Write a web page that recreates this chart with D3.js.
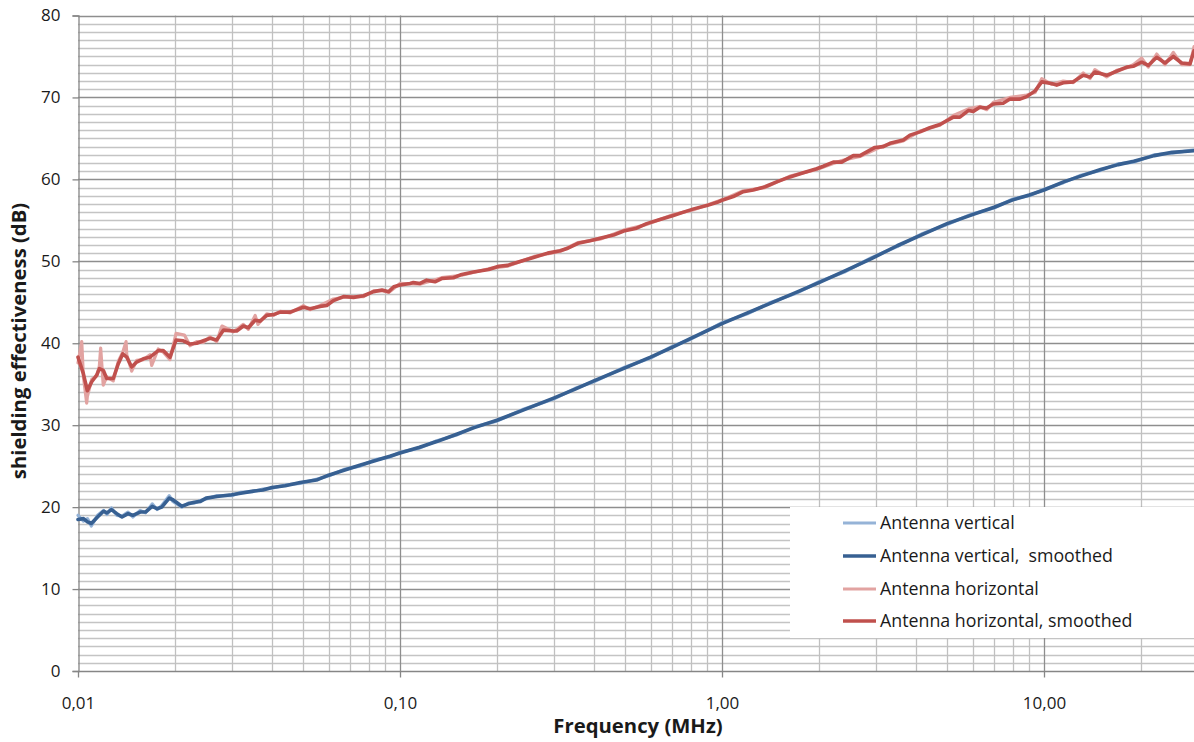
<!DOCTYPE html>
<html>
<head>
<meta charset="utf-8">
<script src="https://cdn.jsdelivr.net/npm/d3@7"></script>
<style>
  html, body { margin: 0; padding: 0; background: #ffffff; }
  svg { display: block; }
  text { font-family: "Open Sans", "Liberation Sans", sans-serif; fill: #1a1a1a; white-space: pre; }
</style>
</head>
<body>
<svg id="chart" width="1194" height="742"></svg>
<script>
// ---------- DATA ----------
// Antenna vertical (frequency in MHz, shielding effectiveness in dB)
const freqV = [0.01,0.0104,0.0107,0.011,0.0115,0.012,0.0123,0.0127,0.0132,0.0137,
  0.0143,0.0148,0.0156,0.0162,0.017,0.0176,0.0182,0.0192,0.0197,0.021,
  0.022,0.023,0.024,0.025,0.027,0.03,0.032,0.035,0.0375,0.04,
  0.044,0.049,0.055,0.06,0.067,0.075,0.084,0.093,0.1,0.115,
  0.13,0.15,0.17,0.2,0.24,0.3,0.35,0.4,0.5,0.6,
  0.7,0.8,1.0,1.2,1.4,1.7,2,2.4,2.9,3.5,
  4.2,5,6,7,8,9,10,11.5,13,15,
  17,19,22,25,29.3];
const rawV = [19.0,18.3,18.6,17.7,19.0,19.6,19.1,19.9,19.0,18.9,
  19.4,18.8,19.6,19.3,20.4,19.7,20.2,21.4,20.7,20.0,
  20.5,20.5,20.8,21.0,21.4,21.4,21.8,21.9,22.2,22.3,
  22.7,22.9,23.4,23.8,24.6,25.0,25.8,26.1,26.7,27.2,
  28.1,28.8,29.8,30.5,31.9,33.2,34.5,35.3,37.1,38.2,
  39.6,40.5,42.5,43.6,44.9,46.1,47.5,48.7,50.4,51.8,
  53.4,54.5,55.8,56.5,57.6,58.0,58.8,59.6,60.5,61.1,
  61.9,62.1,63.0,63.2,63.6];
const smoothV = [18.5,18.6,18.2,18.0,18.8,19.5,19.3,19.7,19.2,18.8,
  19.2,19.0,19.4,19.4,20.1,19.8,20.0,21.1,20.9,20.1,
  20.4,20.6,20.7,21.1,21.3,21.5,21.7,21.95,22.1,22.4,
  22.6,23.0,23.3,23.9,24.5,25.1,25.7,26.2,26.6,27.3,
  28.0,28.9,29.7,30.6,31.8,33.3,34.4,35.4,37.0,38.3,
  39.5,40.6,42.4,43.7,44.8,46.2,47.4,48.8,50.3,51.9,
  53.3,54.6,55.7,56.6,57.5,58.1,58.7,59.7,60.4,61.2,
  61.8,62.2,62.9,63.3,63.5];

// Antenna horizontal, raw
const freqHRaw = [0.01,0.01027,0.01039,0.01064,0.01069,0.01103,0.01143,0.01165,0.01176,0.01198,
  0.01228,0.01287,0.01334,0.01377,0.0141,0.01417,0.01468,0.01521,0.01595,0.01673,
  0.01694,0.01775,0.0184,0.0193,0.02016,0.0214,0.02229,0.02337,0.02451,0.0257,
  0.02696,0.028,0.03039,0.03262,0.03381,0.0355,0.0362,0.03857,0.04046,0.04244,
  0.04559,0.05011,0.05256,0.05647,0.06213,0.06675,0.07171,0.07705,0.08278,0.08793,
  0.09225,0.1,0.1154,0.1347,0.1555,0.1885,0.2155,0.2612,0.314,0.3573,
  0.4179,0.4951,0.5834,0.7062,0.8167,1.0,1.164,1.36,1.626,1.968,
  2.353,2.683,3.17,3.656,4.12,4.75,5.23,5.82,6.32,6.64,
  6.96,7.84,8.84,9.38,9.84,10.56,11.48,12.33,13.24,13.9,
  14.39,15.65,16.82,18.06,18.93,20.11,21.08,22.39,23.76,25.21,
  26.77,28.4,29.24];
const rawH = [37.6,40.2,36.0,32.7,33.5,35.6,36.0,37.2,39.4,34.9,
  35.9,35.4,37.8,38.9,40.2,38.6,36.6,37.9,38.0,38.6,
  37.3,39.3,38.9,38.0,41.2,41.0,39.7,40.2,40.1,40.8,
  40.2,42.1,41.4,42.3,41.7,43.4,42.3,43.6,43.4,43.9,
  43.7,44.6,44.1,44.6,45.4,45.6,45.7,45.7,46.4,46.4,
  46.2,47.3,47.2,48.0,48.3,49.1,49.4,50.6,51.2,52.3,
  52.7,53.8,54.5,55.7,56.3,57.5,58.6,59.0,60.4,61.2,
  62.3,62.8,64.1,64.7,65.9,66.6,67.8,68.6,68.9,68.5,
  69.4,70.0,70.3,70.6,72.3,71.6,72.0,71.8,73.0,72.3,
  73.4,72.5,73.3,73.6,74.0,74.8,73.7,75.3,74.0,75.5,
  74.0,74.0,76.2];

// Antenna horizontal, smoothed
const freqH = [0.01,0.01039,0.01069,0.01103,0.01143,0.01165,0.01198,0.01228,0.01287,0.01334,
  0.01377,0.01417,0.01468,0.01521,0.01595,0.01673,0.01775,0.0184,0.01931,0.02016,
  0.02123,0.02229,0.02337,0.02451,0.0257,0.02696,0.02828,0.03039,0.03111,0.03262,
  0.03381,0.03546,0.03677,0.03857,0.04046,0.04244,0.04559,0.05011,0.05256,0.05647,
  0.05923,0.06213,0.06675,0.07171,0.07705,0.08278,0.08793,0.09225,0.09566,0.1,
  0.1074,0.11,0.1154,0.121,0.1284,0.1347,0.1465,0.1555,0.1692,0.1885,
  0.2026,0.2155,0.2373,0.2612,0.2875,0.314,0.3323,0.3573,0.3888,0.4179,
  0.4604,0.4951,0.5387,0.5834,0.6417,0.7062,0.7595,0.8167,0.8967,0.9664,
  1.0,1.084,1.164,1.25,1.36,1.478,1.626,1.789,1.968,2.063,
  2.217,2.353,2.557,2.683,2.985,3.17,3.324,3.656,3.835,4.12,
  4.42,4.75,5.23,5.48,5.82,6.03,6.32,6.64,6.96,7.47,
  7.84,8.42,8.84,9.38,9.84,10.56,10.95,11.48,12.33,13.24,
  13.9,14.39,15.65,16.82,18.06,18.93,20.11,21.08,22.39,23.76,
  25.21,26.77,28.4,29.24];
const smoothH = [38.3,36.3,34.2,35.3,36.1,36.9,36.7,35.7,35.7,37.5,
  38.7,38.3,37.1,37.7,38.1,38.3,39.1,39.1,38.3,40.4,
  40.3,39.9,40.0,40.3,40.6,40.4,41.6,41.5,41.5,42.1,
  41.9,42.8,42.7,43.4,43.5,43.8,43.8,44.4,44.2,44.5,
  44.6,45.2,45.7,45.6,45.8,46.3,46.5,46.3,46.9,47.1,
  47.3,47.4,47.3,47.7,47.5,47.9,48.0,48.4,48.7,49.0,
  49.4,49.5,50.0,50.5,51.0,51.3,51.6,52.2,52.5,52.8,
  53.2,53.7,54.0,54.6,55.1,55.6,56.0,56.4,56.8,57.2,
  57.45,57.9,58.5,58.7,59.1,59.7,60.3,60.8,61.3,61.6,
  62.1,62.1,62.9,62.9,63.9,64.0,64.4,64.8,65.4,65.8,
  66.3,66.7,67.6,67.6,68.4,68.3,68.8,68.7,69.2,69.3,
  69.8,69.8,70.1,70.8,71.9,71.7,71.5,71.8,71.9,72.7,
  72.5,73.1,72.7,73.2,73.7,73.8,74.3,73.9,74.9,74.2,
  75.0,74.2,74.1,75.7];

const xTickValues = [0.01, 0.1, 1, 10];
const xTickLabels = ["0,01", "0,10", "1,00", "10,00"];
const yTickValues = [0, 10, 20, 30, 40, 50, 60, 70, 80];
const seriesNames = ["Antenna vertical", "Antenna vertical,  smoothed", "Antenna horizontal", "Antenna horizontal, smoothed"];
const seriesColors = ["#95b3d7", "#376092", "#e2a3a1", "#c0504d"];

// ---------- CHART ----------
const svg = d3.select("#chart");
const x = d3.scaleLog().domain([0.01, 30]).range([78, 78 + 322 * Math.log10(3000)]);
const y = d3.scaleLinear().domain([0, 80]).range([671, 15.5]);

const grid = svg.append("g");
// horizontal minor gridlines every 1 dB
const yMinor = d3.range(0, 81).filter(v => v % 10 !== 0);
grid.selectAll(".hmin").data(yMinor).join("line")
  .attr("x1", x(0.01)).attr("x2", 1194)
  .attr("y1", d => Math.round(y(d)) + 0.5).attr("y2", d => Math.round(y(d)) + 0.5)
  .attr("stroke", "#c4c4c4").attr("stroke-width", 1.3);
// vertical minor gridlines
const xMinor = [];
[0.01, 0.1, 1, 10].forEach(dec => { for (let k = 2; k <= 9; k++) { const v = dec * k; if (v <= 30) xMinor.push(v); } });
grid.selectAll(".vmin").data(xMinor).join("line")
  .attr("x1", d => Math.round(x(d)) + 0.5).attr("x2", d => Math.round(x(d)) + 0.5)
  .attr("y1", y(80)).attr("y2", y(0))
  .attr("stroke", "#c0c0c0").attr("stroke-width", 1.3);
// major horizontal gridlines
grid.selectAll(".hmaj").data(yTickValues.filter(v => v > 0)).join("line")
  .attr("x1", x(0.01)).attr("x2", 1194)
  .attr("y1", d => Math.round(y(d)) + 0.5).attr("y2", d => Math.round(y(d)) + 0.5)
  .attr("stroke", "#8e8e8e").attr("stroke-width", 1.3);
// major vertical gridlines
grid.selectAll(".vmaj").data(xTickValues.slice(1)).join("line")
  .attr("x1", d => Math.round(x(d)) + 0.5).attr("x2", d => Math.round(x(d)) + 0.5)
  .attr("y1", y(80)).attr("y2", y(0))
  .attr("stroke", "#8e8e8e").attr("stroke-width", 1.3);

// axes
const yAxis = d3.axisLeft(y).tickValues(yTickValues).tickSize(6).tickPadding(12).tickFormat(d3.format("d"));
const gy = svg.append("g").attr("transform", "translate(" + (Math.round(x(0.01)) + 0.5) + ",0)").call(yAxis);
const xAxis = d3.axisBottom(x).tickValues(xTickValues).tickSize(6).tickPadding(19)
  .tickFormat((d, i) => xTickLabels[i]);
const gx = svg.append("g").attr("transform", "translate(0," + (Math.round(y(0)) + 0.5) + ")").call(xAxis);
[gx, gy].forEach(g => {
  g.select(".domain").attr("stroke", "#868686").attr("stroke-width", 1.3);
  g.selectAll(".tick line").attr("stroke", "#868686").attr("stroke-width", 1.3);
  g.selectAll(".tick text").attr("font-family", "'Open Sans', sans-serif").attr("font-size", 17).attr("fill", "#1a1a1a");
});
gx.select(".domain").attr("d", "M" + x(0.01) + ",0H1194");

// lines
const line = d3.line().x(d => x(d[0])).y(d => y(d[1])).curve(d3.curveLinear);
const zip = (a, b) => a.map((f, i) => [f, b[i]]);
const plot = svg.append("g");
const series = [
  { data: zip(freqV, rawV), color: seriesColors[0], w: 3.2 },
  { data: zip(freqV, smoothV), color: seriesColors[1], w: 3.6 },
  { data: zip(freqHRaw, rawH), color: seriesColors[2], w: 3.2 },
  { data: zip(freqH, smoothH), color: seriesColors[3], w: 3.6 }
];
plot.selectAll("path").data(series).join("path")
  .attr("d", d => line(d.data))
  .attr("fill", "none")
  .attr("stroke", d => d.color)
  .attr("stroke-width", d => d.w)
  .attr("stroke-linejoin", "round")
  .attr("stroke-linecap", "round");

// legend
const legend = svg.append("g");
legend.append("rect").attr("x", 790).attr("y", 507).attr("width", 410).attr("height", 131).attr("fill", "#ffffff");
const rowsY = [523, 556, 589, 621];
seriesNames.forEach((name, i) => {
  legend.append("line").attr("x1", 843).attr("x2", 876).attr("y1", rowsY[i]).attr("y2", rowsY[i])
    .attr("stroke", seriesColors[i]).attr("stroke-width", i % 2 === 0 ? 3 : 3.6);
  legend.append("text").attr("x", 880).attr("y", rowsY[i]).attr("dy", "0.35em")
    .attr("xml:space", "preserve")
    .attr("font-size", 17.8).text(name);
});

// axis titles
svg.append("text").attr("x", 638).attr("y", 733).attr("text-anchor", "middle")
  .attr("font-size", 20.3).attr("font-weight", "bold").text("Frequency (MHz)");
svg.append("text").attr("transform", "translate(26,341) rotate(-90)").attr("text-anchor", "middle")
  .attr("font-size", 20.3).attr("font-weight", "bold").text("shielding effectiveness (dB)");
</script>
</body>
</html>
